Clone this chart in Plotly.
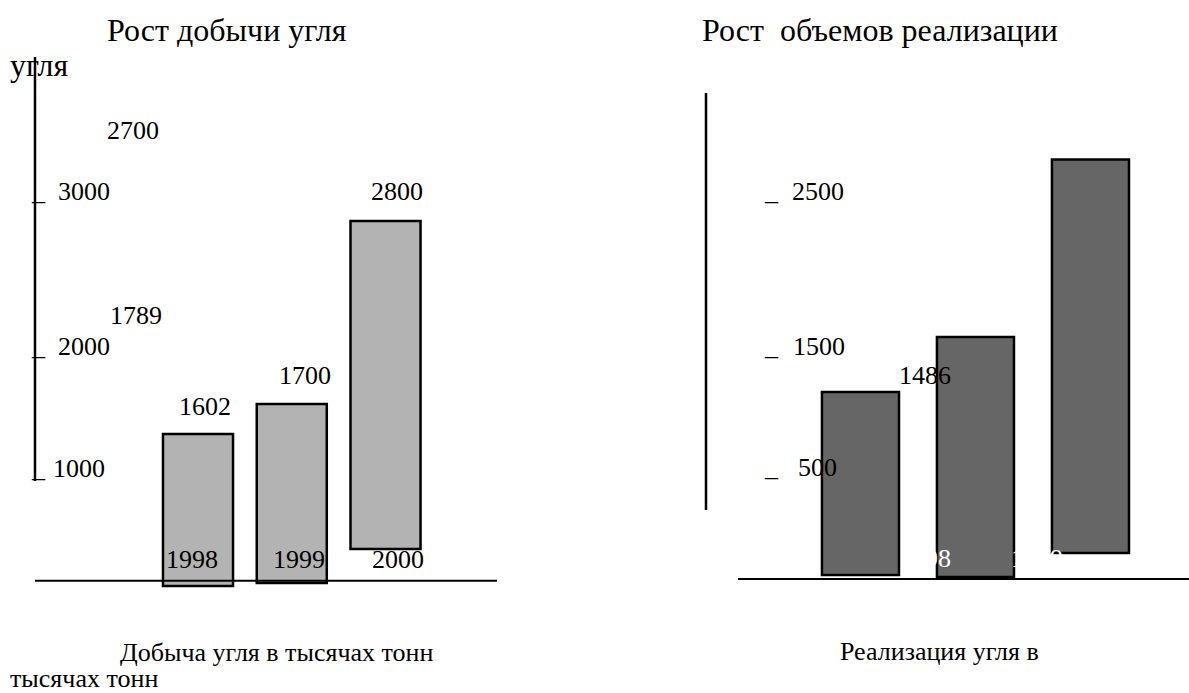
import plotly.graph_objects as go

# ---------------- data ----------------
years = ["1998", "1999", "2000"]

# Left panel: coal production (thousand tonnes) – bar extents (axis units)
prod_top = [1168, 1408, 2872]
prod_bottom = [-48, -24, 248]
prod_value_labels = ["1602", "1700", "2800"]
prod_extra_labels = ["2700", "1789"]
prod_tick_labels = ["3000", "2000", "1000"]

# Right panel: coal sales – bar extents (axis units)
sales_top = [1504, 1944, 3364]
sales_bottom = [40, 24, 216]
sales_value_labels = ["1486"]
sales_tick_labels = ["2500", "1500", "500"]

title_left = "Рост добычи угля"
title_left_wrap = "угля"
title_right = "Рост  объемов реализации"
caption_left = "Добыча угля в тысячах тонн"
caption_left_wrap = "тысячах тонн"
caption_right = "Реализация угля в"

# ---------------- layout helpers ----------------
W, H = 1189, 693
FONT = "Liberation Serif"


def px(x):
    return x / W


def py(y):
    return 1 - y / H


def txt(s, x, baseline, size=26, color="black"):
    return dict(
        text=s, x=px(x), y=py(baseline - 0.3375 * size),
        xref="paper", yref="paper", xanchor="left", yanchor="middle",
        showarrow=False, borderpad=0, borderwidth=0,
        font=dict(family=FONT, size=size, color=color),
    )


def hline(x0, x1, y, w=2):
    return dict(type="line", xref="paper", yref="paper", x0=px(x0), x1=px(x1),
                y0=py(y), y1=py(y), line=dict(color="black", width=w), layer="above")


def vline(x, y0, y1, w=2.5):
    return dict(type="line", xref="paper", yref="paper", x0=px(x), x1=px(x),
                y0=py(y0), y1=py(y1), line=dict(color="black", width=w), layer="above")


fig = go.Figure()

fig.add_trace(go.Bar(
    x=years, y=[t - b for t, b in zip(prod_top, prod_bottom)], base=prod_bottom,
    width=0.747, marker=dict(color="#b3b3b3", line=dict(color="black", width=2.5)),
    xaxis="x", yaxis="y", showlegend=False, hoverinfo="skip",
))
fig.add_trace(go.Bar(
    x=years, y=[t - b for t, b in zip(sales_top, sales_bottom)], base=sales_bottom,
    width=0.670, marker=dict(color="#666666", line=dict(color="black", width=2.5)),
    xaxis="x2", yaxis="y2", showlegend=False, hoverinfo="skip",
))

yrange = [-(H - 580) * 8, 580 * 8]
fig.update_layout(
    width=W, height=H, autosize=False,
    margin=dict(l=0, r=0, t=0, b=0, pad=0),
    paper_bgcolor="white", plot_bgcolor="white",
    xaxis=dict(domain=[0, 0.5], type="category", range=[-2.112, 4.229], visible=False),
    yaxis=dict(domain=[0, 1], range=yrange, visible=False),
    xaxis2=dict(domain=[0.5, 1], type="category", range=[-2.313, 2.857], visible=False, anchor="y2"),
    yaxis2=dict(domain=[0, 1], range=yrange, visible=False, anchor="x2"),
)

ann = []
# titles / captions
ann.append(txt(title_left, 107, 40.7, 32))
ann.append(txt(title_left_wrap, 10, 76, 32))
ann.append(txt(title_right, 702, 40.7, 32))
ann.append(txt(caption_left, 120, 661))
ann.append(txt(caption_left_wrap, 10, 687))
ann.append(txt(caption_right, 840, 660.7))

# left tick marks (underscore glyphs) and labels
for lab, lx, bl in zip(prod_tick_labels, [58, 58, 53], [200.7, 355.7, 477.7]):
    ann.append(txt("_", 31, bl))
    ann.append(txt(lab, lx, bl))
# left floating value labels
for lab, lx, bl in zip(prod_extra_labels, [107, 110], [139.5, 324]):
    ann.append(txt(lab, lx, bl))
for lab, lx, bl in zip(prod_value_labels, [179, 279, 371], [415, 384, 200.7]):
    ann.append(txt(lab, lx, bl))
for lab, lx in zip(years, [166, 273, 372]):
    ann.append(txt(lab, lx, 568.3))

# right tick marks and labels
for lab, lx, bl in zip(sales_tick_labels, [792, 793, 798], [200.5, 355, 476.7]):
    ann.append(txt("_", 764, bl))
    ann.append(txt(lab, lx, bl))
for lab, lx, bl in zip(sales_value_labels, [899], [384]):
    ann.append(txt(lab, lx, bl))
# white year labels (only visible where they cross the dark bars)
for lab, lx in zip(years, [899, 1011, 1134]):
    ann.append(txt(lab, lx, 567, color="white"))

fig.update_layout(annotations=ann)

fig.update_layout(shapes=[
    vline(35, 57, 481),
    hline(35, 497, 580.7),
    vline(706, 93, 510),
    hline(738, 1189, 579),
])

fig.write_html(
    "out.html",
    config={"displayModeBar": False},
    post_script="document.body.style.margin='0';document.body.style.overflow='hidden';",
)
